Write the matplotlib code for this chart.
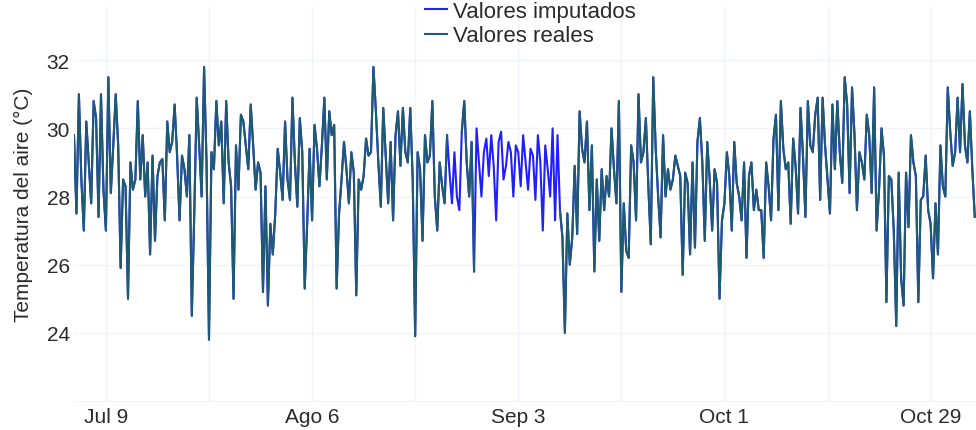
import matplotlib
matplotlib.use("Agg")
import matplotlib.pyplot as plt
import numpy as np
import pandas as pd

plt.rcParams['font.family'] = ['Liberation Sans', 'DejaVu Sans']

# Temperatura del aire (°C), una lectura cada 8 horas desde el 4 de julio
inicio = '2023-07-04 16:00'
paso = '8h'

# Tramo real antes del primer hueco
reales_1 = [
    29.8, 27.5, 31.0, 28.5, 27.0, 30.2, 29.0, 27.8, 30.8, 30.3,
    27.4, 31.0, 28.2, 27.0, 31.5, 28.1, 29.5, 31.0, 29.5, 25.9,
    28.5, 28.3, 25.0, 29.0, 28.2, 28.5, 30.8, 28.5, 29.8, 28.0,
    29.0, 26.3, 29.2, 26.7, 28.6, 29.0, 29.1, 27.3, 30.2, 29.3,
    29.6, 30.7, 29.2, 27.3, 29.2, 28.8, 28.0, 29.8, 24.5, 27.5,
    30.9, 29.5, 28.0, 31.8, 29.0, 23.8, 29.3, 28.8, 30.8, 29.5,
    30.2, 27.8, 30.8, 29.0, 28.3, 25.0, 29.5, 28.2, 30.4, 30.2,
    29.5, 28.8, 30.7, 29.5, 28.2, 29.0,
    28.7, 25.2, 28.3, 24.8, 27.2, 26.3, 27.5, 29.4, 28.7, 27.9,
    30.2, 28.5, 27.9, 30.9, 29.0, 27.7, 30.3, 29.3, 25.3, 27.2,
    29.4, 27.3, 30.1, 29.4, 28.3, 29.5, 30.9, 28.5, 30.5, 29.8,
    30.1, 25.3, 27.5, 28.5, 29.6, 28.8, 27.8, 29.3, 28.7, 25.1,
    28.5, 28.2, 28.6, 29.7, 29.2, 29.3, 31.8, 30.5, 29.0, 27.7,
    30.6, 29.2, 27.8, 29.6, 27.3, 29.8, 30.5, 28.9, 30.6, 29.3,
    29.0, 30.6, 28.5, 23.9, 29.3, 28.8, 26.7, 29.8, 29.0, 29.2,
    30.8, 28.0, 27.0, 29.0, 28.3, 27.8, 29.8,
]
imputados_1 = [28.7, 27.8, 29.3, 28.0, 27.6]
reales_2 = [29.9, 30.8, 29.0, 28.0, 29.6, 25.8]
imputados_2 = [
    30.0, 29.0, 28.0, 29.3, 29.7, 28.6, 29.8, 28.9, 27.3, 29.6,
    29.9, 28.5, 28.9, 29.6, 29.3, 28.0, 29.5, 29.3, 28.3, 29.8,
    29.0, 28.2, 29.4, 29.2, 27.9, 29.8, 29.0, 27.0, 29.5, 28.8,
    28.0, 30.0, 27.3, 29.8,
]
reales_3 = [
    27.6, 26.8, 24.0, 27.5, 26.0, 26.8, 28.9, 26.9, 30.5, 29.4,
    29.0, 30.2, 27.6, 29.5, 25.8, 28.5, 26.7, 28.8, 27.6, 28.6,
    28.0, 30.0, 28.8, 27.8, 30.8, 25.2, 27.8, 26.4, 26.2, 29.5,
    29.0, 27.3, 31.0, 29.0, 29.3, 30.3, 28.3, 26.6, 31.5, 29.4,
    28.0, 26.8, 29.8, 28.0, 28.8, 28.2, 28.5, 29.2, 28.9, 28.6,
    25.7, 28.7, 28.4, 26.3, 29.0, 26.5, 29.6, 30.3, 29.0, 26.7,
    29.6, 28.5, 27.0, 28.8, 28.4, 25.0, 27.3, 27.8, 29.3, 28.6,
    27.0, 29.6, 28.4, 28.0, 27.3, 29.0, 26.2, 28.6, 29.0, 27.6,
    28.2, 27.6, 27.6, 26.2, 29.0, 28.3, 27.3, 29.7, 30.4, 27.6,
    30.8, 29.4, 28.8, 29.0, 27.2, 29.7, 28.9,
    27.5, 30.6, 29.2, 27.4, 30.8, 29.5, 29.3, 30.4, 30.9, 27.9,
    30.9, 29.5, 28.5, 27.5, 30.7, 28.8, 30.8, 29.3, 28.4, 31.5,
    30.7, 28.1, 31.2, 29.8, 27.6, 29.3, 29.0, 28.5, 30.4, 29.8,
    28.1, 31.2, 27.0, 28.2, 30.0, 29.2, 24.9, 28.6, 28.5, 27.0,
    24.2, 28.7, 25.6, 24.8, 28.7, 27.1, 29.8, 29.0, 28.6, 24.9,
    27.9, 28.0, 29.2, 27.6, 27.2, 25.6, 27.8, 26.3, 29.5, 28.3,
    28.0, 31.2, 29.9, 28.9, 29.3, 30.9, 29.3, 31.3, 29.5, 29.0,
    30.5, 28.8, 27.4,
]

tick_fechas = ['2023-07-09', '2023-08-06', '2023-09-03', '2023-10-01', '2023-10-29']
tick_textos = ['Jul 9', 'Ago 6', 'Sep 3', 'Oct 1', 'Oct 29']
grid_fechas = ['2023-07-23', '2023-08-20', '2023-09-17', '2023-10-15']

# serie completa (con imputados) y serie real (huecos como NaN)
completa = reales_1 + imputados_1 + reales_2 + imputados_2 + reales_3
hueco_1 = [np.nan] * len(imputados_1)
hueco_2 = [np.nan] * len(imputados_2)
solo_reales = reales_1 + hueco_1 + reales_2 + hueco_2 + reales_3

fechas = pd.date_range(inicio, periods=len(completa), freq=paso)

fig = plt.figure(figsize=(9.76, 4.31), dpi=100)
ax = fig.add_axes([74 / 976, 1 - 402 / 431, 1 - 74 / 976, (402 - 8) / 431])

grid_color = '#F0F3F9'
texto = '#2b2b2b'

l1, = ax.plot(fechas, completa, color='#2020ff', lw=1.5, label='Valores imputados')
l2, = ax.plot(fechas, solo_reales, color='#1e5a72', lw=1.5, label='Valores reales')

ax.set_xlim(pd.Timestamp(inicio), pd.Timestamp('2023-11-04 04:00'))
ax.set_ylim(22, 33.56)

ax.set_yticks([24, 26, 28, 30, 32])
ax.set_xticks(pd.to_datetime(tick_fechas))
ax.set_xticklabels(tick_textos)
ax.set_xticks(pd.to_datetime(grid_fechas), minor=True)

ax.grid(True, which='both', color=grid_color, lw=1)
ax.set_axisbelow(True)
ax.tick_params(axis='both', which='both', length=0, labelsize=15, colors=texto)
ax.tick_params(axis='y', pad=3)
ax.tick_params(axis='x', pad=4)

for s in ['top', 'right', 'left']:
    ax.spines[s].set_visible(False)
ax.spines['bottom'].set_color(grid_color)

ax.set_ylabel('Temperatura del aire (°C)', fontsize=15, color=texto, labelpad=10)

fig.legend(handles=[l1, l2], loc='upper left', bbox_to_anchor=(425 / 976, 1 - 2 / 431),
           frameon=False, fontsize=16, handlelength=1.0, handletextpad=0.25,
           labelspacing=0.15, borderpad=0, borderaxespad=0, labelcolor=texto)

fig.savefig('out.png', dpi=100, facecolor='white')
